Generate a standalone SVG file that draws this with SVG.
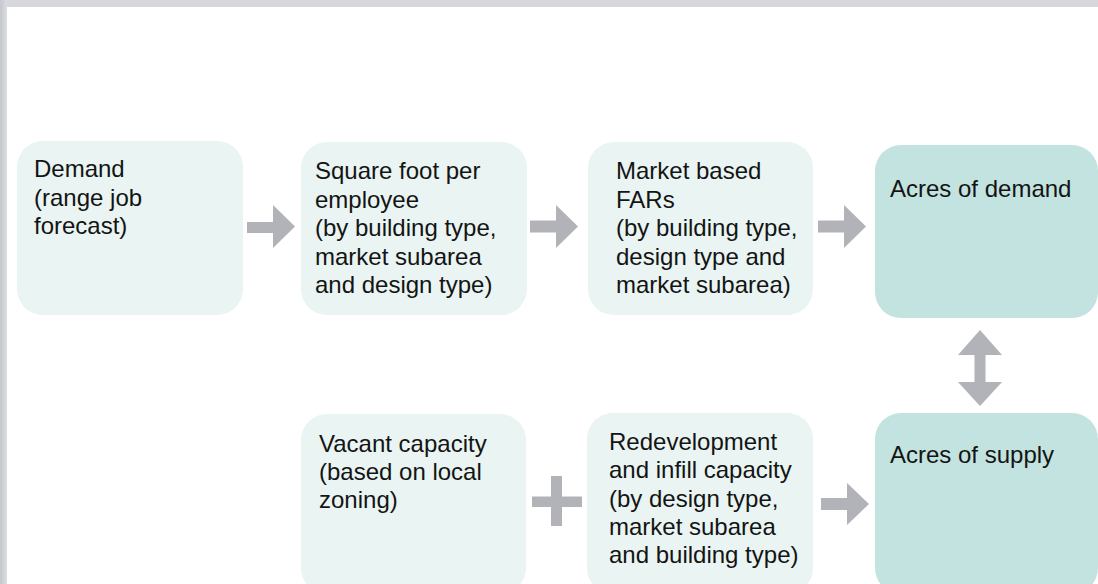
<svg xmlns="http://www.w3.org/2000/svg" width="1098" height="584" viewBox="0 0 1098 584">
<defs>
<linearGradient id="lg" x1="0" y1="0" x2="1" y2="0"><stop offset="0" stop-color="#c4c7cb"/><stop offset="1" stop-color="#dcdee1"/></linearGradient>
<style>
.lt{fill:#e9f4f3}
.dk{fill:#c2e3df}
.t{font-family:"Liberation Sans",Arial,sans-serif;font-size:24px;fill:#141414}
.ar{fill:#b2b3b8}
</style>
</defs>
<rect x="0" y="0" width="1098" height="584" fill="#ffffff"/>
<rect x="0" y="0" width="1098" height="7" fill="#d6d8db"/>
<rect x="0" y="0" width="7" height="584" fill="url(#lg)"/>
<g id="connectors">
<path class="ar" d="M247,222 H273 V205 L295,226.5 L273,248 V233 H247 Z"/>
<path class="ar" d="M530,220.5 H556 V205 L578,226.5 L556,248 V232.5 H530 Z"/>
<path class="ar" d="M818,220.5 H844 V205 L866,226.5 L844,248 V232.5 H818 Z"/>
<path class="ar" d="M980,330 L1002,355 H985.5 V382 H1002 L980,406 L958,382 H974.5 V355 H958 Z"/>
<path class="ar" d="M532,496.5 H551 V476 H562 V496.5 H582 V507 H562 V526 H551 V507 H532 Z"/>
<path class="ar" d="M821,498 H847 V483 L869,504 L847,525 V510 H821 Z"/>
</g>
<g id="demand">
<rect class="lt" x="17" y="141" width="226" height="174" rx="26"/>
<text class="t" x="34" y="177">Demand</text>
<text class="t" x="34" y="205.5">(range job</text>
<text class="t" x="34" y="234">forecast)</text>
</g>
<g id="sqft">
<rect class="lt" x="301" y="142" width="226" height="173" rx="26"/>
<text class="t" x="315" y="179">Square foot per</text>
<text class="t" x="315" y="207.5">employee</text>
<text class="t" x="315" y="236">(by building type,</text>
<text class="t" x="315" y="264.5">market subarea</text>
<text class="t" x="315" y="293">and design type)</text>
</g>
<g id="far">
<rect class="lt" x="588" y="142" width="225" height="173" rx="26"/>
<text class="t" x="616" y="179">Market based</text>
<text class="t" x="616" y="207.5">FARs</text>
<text class="t" x="616" y="236">(by building type,</text>
<text class="t" x="616" y="264.5">design type and</text>
<text class="t" x="616" y="293">market subarea)</text>
</g>
<g id="acres-demand">
<rect class="dk" x="875" y="145" width="223" height="173" rx="26"/>
<text class="t" x="890" y="197">Acres of demand</text>
</g>
<g id="vacant">
<rect class="lt" x="301" y="414" width="225" height="180" rx="26"/>
<text class="t" x="319" y="452">Vacant capacity</text>
<text class="t" x="319" y="480">(based on local</text>
<text class="t" x="319" y="508">zoning)</text>
</g>
<g id="redev">
<rect class="lt" x="587" y="413" width="226" height="181" rx="26"/>
<text class="t" x="609" y="450">Redevelopment</text>
<text class="t" x="609" y="478.3">and infill capacity</text>
<text class="t" x="609" y="506.6">(by design type,</text>
<text class="t" x="609" y="534.9">market subarea</text>
<text class="t" x="609" y="563.2">and building type)</text>
</g>
<g id="acres-supply">
<rect class="dk" x="875" y="413" width="223" height="181" rx="26"/>
<text class="t" x="890" y="463">Acres of supply</text>
</g>
</svg>
